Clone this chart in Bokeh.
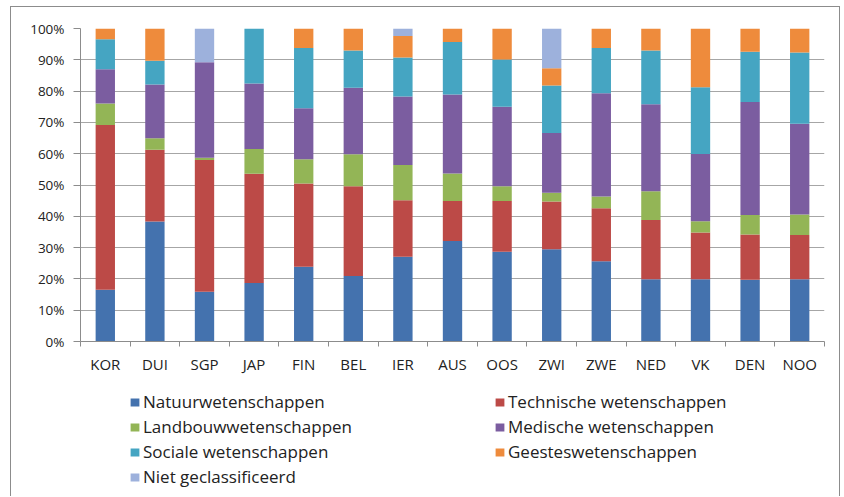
from bokeh.plotting import figure
from bokeh.layouts import column
from bokeh.models import (ColumnDataSource, Range1d, FixedTicker, NumeralTickFormatter,
                          Legend, LegendItem)
from bokeh.embed import file_html
from bokeh.resources import INLINE

countries = ["KOR", "DUI", "SGP", "JAP", "FIN", "BEL", "IER", "AUS",
             "OOS", "ZWI", "ZWE", "NED", "VK", "DEN", "NOO"]

natuur     = [16.5, 38.3, 15.9, 18.7, 23.9, 20.9, 27.1, 32.1, 28.7, 29.5, 25.6, 19.9, 19.9, 19.7, 19.9]
technisch  = [52.7, 23.0, 42.1, 34.9, 26.6, 28.7, 18.0, 12.8, 16.2, 15.2, 17.0, 18.9, 14.9, 14.5, 14.1]
landbouw   = [6.8, 3.6, 0.7, 7.9, 7.7, 10.2, 11.3, 8.8, 4.7, 2.8, 3.7, 9.2, 3.6, 6.2, 6.6]
medisch    = [11.0, 17.2, 30.5, 20.9, 16.3, 21.3, 21.9, 25.2, 25.4, 19.1, 33.0, 27.8, 21.5, 36.1, 29.0]
sociaal    = [9.6, 7.6, 0.0, 17.6, 19.3, 11.9, 12.4, 16.8, 15.1, 15.2, 14.5, 17.2, 21.3, 16.1, 22.7]
geestes    = [3.4, 10.3, 0.0, 0.0, 6.2, 7.0, 6.9, 4.3, 9.9, 5.5, 6.2, 7.0, 18.8, 7.4, 7.7]
niet_class = [0.0, 0.0, 10.8, 0.0, 0.0, 0.0, 2.4, 0.0, 0.0, 12.7, 0.0, 0.0, 0.0, 0.0, 0.0]

series_names = ["Natuurwetenschappen", "Technische wetenschappen", "Landbouwwetenschappen",
                "Medische wetenschappen", "Sociale wetenschappen", "Geesteswetenschappen",
                "Niet geclassificeerd"]
series_vals = [natuur, technisch, landbouw, medisch, sociaal, geestes, niet_class]
colors = ["#4472AE", "#BC4A47", "#93B556", "#7B5DA0", "#45A5C2", "#EE8B3C", "#9DB1DC"]

FONT = "Open Sans"
BORDER = "1px solid #8c8c8c"

x = list(range(len(countries)))
tot = [sum(s[j] for s in series_vals) for j in range(len(countries))]
data = {"x": x}
for i, vals in enumerate(series_vals):
    data["s%d" % i] = [v / t for v, t in zip(vals, tot)]
source = ColumnDataSource(data)

p = figure(width=828, height=383, output_backend="svg", toolbar_location=None,
           x_range=Range1d(-0.5, len(countries) - 0.5), y_range=Range1d(0, 1),
           min_border_left=69, min_border_right=17, min_border_top=21, min_border_bottom=50)
p.styles = {"border-top": BORDER, "border-left": BORDER, "border-right": BORDER,
            "box-sizing": "content-box"}
p.outline_line_color = None

renderers = p.vbar_stack(["s%d" % i for i in range(7)], x="x", width=0.39, source=source,
                         color=colors, line_color=None)

p.xgrid.grid_line_color = None
p.ygrid.grid_line_color = "#a6a6a6"

p.yaxis.ticker = FixedTicker(ticks=[i / 10 for i in range(11)])
p.yaxis.formatter = NumeralTickFormatter(format="0%")
p.yaxis.axis_line_color = "#8c8c8c"
p.yaxis.major_tick_line_color = "#8c8c8c"
p.yaxis.major_tick_in = 0
p.yaxis.major_tick_out = 7
p.yaxis.minor_tick_line_color = None
p.yaxis.major_label_text_font = FONT
p.yaxis.major_label_text_font_size = "13.5px"
p.yaxis.major_label_text_color = "#222222"
p.yaxis.major_label_standoff = 9

p.xaxis.ticker = FixedTicker(ticks=x, minor_ticks=[i - 0.5 for i in range(len(countries) + 1)])
p.xaxis.major_label_overrides = {i: c for i, c in enumerate(countries)}
p.xaxis.axis_line_color = "#8c8c8c"
p.xaxis.major_tick_line_color = None
p.xaxis.major_tick_in = 0
p.xaxis.major_tick_out = 0
p.xaxis.minor_tick_line_color = "#8c8c8c"
p.xaxis.minor_tick_in = 0
p.xaxis.minor_tick_out = 5
p.xaxis.major_label_text_font = FONT
p.xaxis.major_label_text_font_size = "15px"
p.xaxis.major_label_text_color = "#222222"
p.xaxis.major_label_standoff = 7

# legend panel (separate figure so that the legend is not clipped)
pl = figure(width=828, height=106, output_backend="svg", toolbar_location=None,
            x_range=Range1d(0, 1), y_range=Range1d(0, 1),
            x_axis_location=None, y_axis_location=None,
            min_border_left=69, min_border_right=17, min_border_top=0, min_border_bottom=0)
pl.styles = {"border-left": BORDER, "border-right": BORDER, "box-sizing": "content-box"}
pl.outline_line_color = None
pl.xgrid.grid_line_color = None
pl.ygrid.grid_line_color = None
# zero-height bars: they only carry the colours for the legend swatches
dummy = [pl.vbar(x=[0.5], top=[0], bottom=[0], width=0.0, color=c, line_color=None)
         for c in colors]

items = [LegendItem(label=n, renderers=[r]) for n, r in zip(series_names, dummy)]
legend = Legend(items=items, location=(49, 8), orientation="horizontal", ncols=2,
                glyph_width=11, glyph_height=10, label_height=10, label_width=349,
                label_standoff=3, spacing=2, padding=0, margin=0,
                border_line_color=None, background_fill_alpha=0,
                label_text_font=FONT, label_text_font_size="17px",
                label_text_color="#222222")
pl.add_layout(legend, "center")

layout = column(p, pl, spacing=0)
layout.styles = {"position": "absolute", "left": "10px", "top": "6px"}

open("out.html", "w").write(file_html(layout, INLINE))
